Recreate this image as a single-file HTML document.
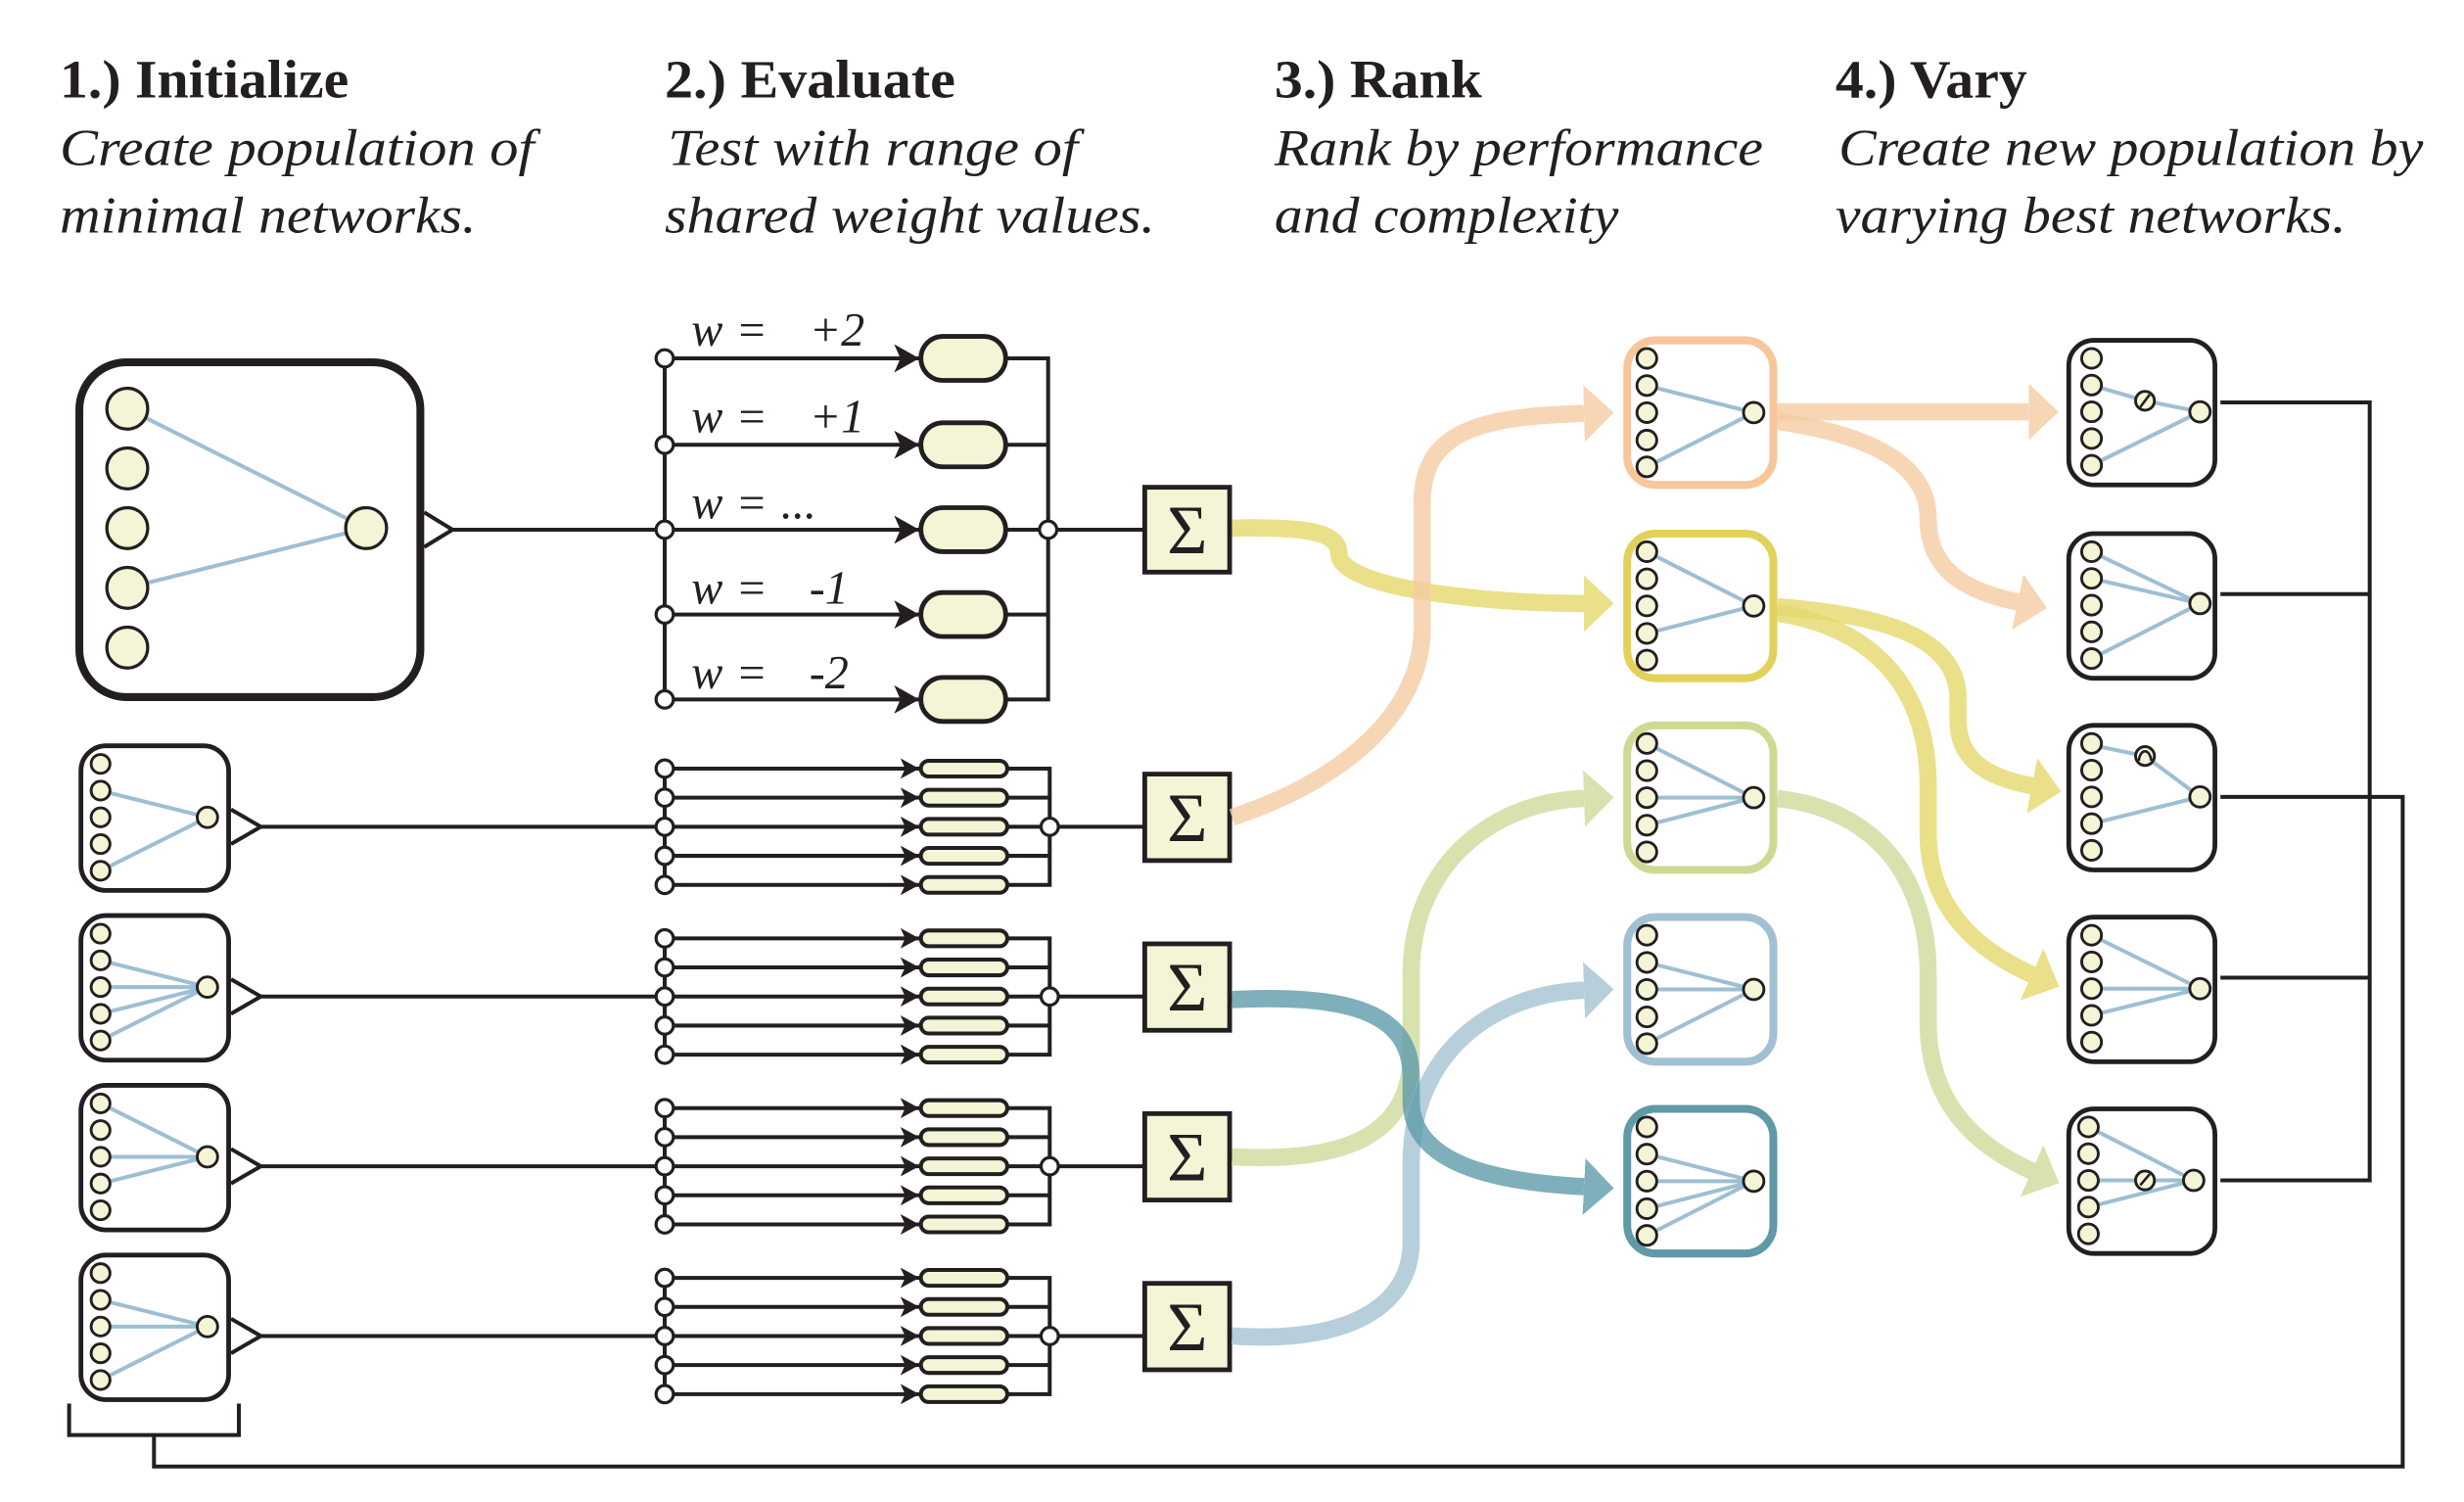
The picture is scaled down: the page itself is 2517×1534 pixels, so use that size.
<!DOCTYPE html>
<html><head><meta charset="utf-8"><style>html,body{margin:0;padding:0;background:#fff}svg{display:block}</style></head>
<body>
<svg width="2517" height="1534" viewBox="0 0 1568 955.6" xmlns="http://www.w3.org/2000/svg">
<defs>
<marker id="ab" markerUnits="userSpaceOnUse" markerWidth="18" markerHeight="20" refX="16" refY="9" orient="auto"><path d="M0,0 L16,9 L0,18 L4,9 Z" fill="#231f20"/></marker>
<marker id="as" markerUnits="userSpaceOnUse" markerWidth="14" markerHeight="14" refX="12" refY="6.5" orient="auto"><path d="M0,0 L12,6.5 L0,13 L3,6.5 Z" fill="#231f20"/></marker>
<marker id="mo" markerUnits="userSpaceOnUse" markerWidth="20" markerHeight="38" refX="0" refY="18" orient="auto"><path d="M0,0 L19,18 L0,36 Z" fill="#f6cca4"/></marker>
<marker id="my" markerUnits="userSpaceOnUse" markerWidth="20" markerHeight="38" refX="0" refY="18" orient="auto"><path d="M0,0 L19,18 L0,36 Z" fill="#e5d96c"/></marker>
<marker id="mg" markerUnits="userSpaceOnUse" markerWidth="20" markerHeight="38" refX="0" refY="18" orient="auto"><path d="M0,0 L19,18 L0,36 Z" fill="#cfdb9c"/></marker>
<marker id="mb" markerUnits="userSpaceOnUse" markerWidth="20" markerHeight="38" refX="0" refY="18" orient="auto"><path d="M0,0 L19,18 L0,36 Z" fill="#a6c3d3"/></marker>
<marker id="mt" markerUnits="userSpaceOnUse" markerWidth="20" markerHeight="38" refX="0" refY="18" orient="auto"><path d="M0,0 L19,18 L0,36 Z" fill="#5f9cab"/></marker>
</defs>

<!-- Headings -->
<g font-family="Liberation Serif, serif" fill="#231f20">
<text x="38" y="62" font-size="34" font-weight="bold" textLength="184" lengthAdjust="spacingAndGlyphs">1.) Initialize</text>
<text x="423" y="62" font-size="34" font-weight="bold" textLength="185" lengthAdjust="spacingAndGlyphs">2.) Evaluate</text>
<text x="811" y="62" font-size="34" font-weight="bold" textLength="132" lengthAdjust="spacingAndGlyphs">3.) Rank</text>
<text x="1168" y="62" font-size="34" font-weight="bold" textLength="122" lengthAdjust="spacingAndGlyphs">4.) Vary</text>
<g font-style="italic" font-size="33">
<text x="38" y="105" textLength="302" lengthAdjust="spacingAndGlyphs">Create population of</text>
<text x="38" y="148" textLength="265" lengthAdjust="spacingAndGlyphs">minimal networks.</text>
<text x="425" y="105" textLength="261" lengthAdjust="spacingAndGlyphs">Test with range of</text>
<text x="423" y="148" textLength="312" lengthAdjust="spacingAndGlyphs">shared weight values.</text>
<text x="811" y="105" textLength="311" lengthAdjust="spacingAndGlyphs">Rank by performance</text>
<text x="811" y="148" textLength="219" lengthAdjust="spacingAndGlyphs">and complexity</text>
<text x="1170" y="105" textLength="372" lengthAdjust="spacingAndGlyphs">Create new population by</text>
<text x="1168" y="148" textLength="325" lengthAdjust="spacingAndGlyphs">varying best networks.</text>
</g>
<g font-size="30">
<text x="440" y="220"><tspan font-style="italic">w</tspan><tspan x="470">=</tspan><tspan x="515" font-style="italic">+2</tspan></text>
<text x="440" y="275"><tspan font-style="italic">w</tspan><tspan x="470">=</tspan><tspan x="515" font-style="italic">+1</tspan></text>
<text x="440" y="330"><tspan font-style="italic">w</tspan><tspan x="470">=</tspan><tspan x="497" font-style="italic">...</tspan></text>
<text x="440" y="384"><tspan font-style="italic">w</tspan><tspan x="470">=</tspan><tspan x="515" font-style="italic">-1</tspan></text>
<text x="440" y="438"><tspan font-style="italic">w</tspan><tspan x="470">=</tspan><tspan x="515" font-style="italic">-2</tspan></text>
</g>
</g>

<!-- Big network -->
<g stroke="#231f20" fill="none">
<rect x="50.5" y="230.5" width="217" height="213" rx="30" stroke-width="5"/>
<line x1="81" y1="260" x2="233" y2="336" stroke="#9dbfd3" stroke-width="2.5"/>
<line x1="81" y1="374" x2="233" y2="336" stroke="#9dbfd3" stroke-width="2.5"/>
<g fill="#f4f4d6" stroke-width="2">
<circle cx="81" cy="260" r="13"/><circle cx="81" cy="298" r="13"/><circle cx="81" cy="336" r="13"/><circle cx="81" cy="374" r="13"/><circle cx="81" cy="412" r="13"/><circle cx="233" cy="336" r="13"/>
</g>
<path d="M270,326 L288,337 L270,348" stroke-width="2.5" fill="#fff"/>
<path d="M288,337 H423" stroke-width="2.5"/>
<!-- eval big -->
<path d="M423,228 V445" stroke-width="2.5"/>
<g stroke-width="2.5" marker-end="url(#ab)">
<path d="M423,228 H585"/><path d="M423,283 H585"/><path d="M423,337 H585"/><path d="M423,391 H585"/><path d="M423,445 H585"/>
</g>
<g fill="#f4f4d6" stroke-width="3">
<rect x="586" y="214" width="54" height="28" rx="14"/><rect x="586" y="269" width="54" height="28" rx="14"/><rect x="586" y="323" width="54" height="28" rx="14"/><rect x="586" y="377" width="54" height="28" rx="14"/><rect x="586" y="431" width="54" height="28" rx="14"/>
</g>
<path d="M640,228 H667 V445 H640 M640,283 H667 M640,337 H728 M640,391 H667" stroke-width="2.5"/>
<g fill="#fff" stroke-width="2">
<circle cx="423" cy="228" r="5.5"/><circle cx="423" cy="283" r="5.5"/><circle cx="423" cy="337" r="5.5"/><circle cx="423" cy="391" r="5.5"/><circle cx="423" cy="445" r="5.5"/><circle cx="667" cy="337" r="5.5"/>
</g>
<rect x="728.5" y="310" width="54" height="54" fill="#f4f4d6" stroke-width="3"/>
</g>
<text x="755.5" y="352" font-family="Liberation Serif, serif" font-size="44" text-anchor="middle" fill="#231f20">Σ</text>

<!-- small rows: template pieces -->
<g stroke="#231f20" fill="none">
<!-- row nets -->
<g transform="translate(50,473)">
<rect x="1.5" y="1.5" width="94" height="92" rx="16" stroke-width="3"/>
<path d="M14,30 L82,47 M14,81 L82,47" stroke="#9dbfd3" stroke-width="2.5"/>
</g>
<g transform="translate(50,581)">
<rect x="1.5" y="1.5" width="94" height="92" rx="16" stroke-width="3"/>
<path d="M14,30 L82,47 M14,47 L82,47 M14,64 L82,47 M14,81 L82,47" stroke="#9dbfd3" stroke-width="2.5"/>
</g>
<g transform="translate(50,689)">
<rect x="1.5" y="1.5" width="94" height="92" rx="16" stroke-width="3"/>
<path d="M14,13 L82,47 M14,47 L82,47 M14,64 L82,47" stroke="#9dbfd3" stroke-width="2.5"/>
</g>
<g transform="translate(50,797)">
<rect x="1.5" y="1.5" width="94" height="92" rx="16" stroke-width="3"/>
<path d="M14,30 L82,47 M14,47 L82,47 M14,81 L82,47" stroke="#9dbfd3" stroke-width="2.5"/>
</g>
</g>
<g fill="#f4f4d6" stroke="#231f20" stroke-width="1.8">
<g transform="translate(50,473)"><circle cx="14" cy="13" r="6"/><circle cx="14" cy="30" r="6"/><circle cx="14" cy="47" r="6"/><circle cx="14" cy="64" r="6"/><circle cx="14" cy="81" r="6"/><circle cx="82" cy="47" r="6.5"/></g>
<g transform="translate(50,581)"><circle cx="14" cy="13" r="6"/><circle cx="14" cy="30" r="6"/><circle cx="14" cy="47" r="6"/><circle cx="14" cy="64" r="6"/><circle cx="14" cy="81" r="6"/><circle cx="82" cy="47" r="6.5"/></g>
<g transform="translate(50,689)"><circle cx="14" cy="13" r="6"/><circle cx="14" cy="30" r="6"/><circle cx="14" cy="47" r="6"/><circle cx="14" cy="64" r="6"/><circle cx="14" cy="81" r="6"/><circle cx="82" cy="47" r="6.5"/></g>
<g transform="translate(50,797)"><circle cx="14" cy="13" r="6"/><circle cx="14" cy="30" r="6"/><circle cx="14" cy="47" r="6"/><circle cx="14" cy="64" r="6"/><circle cx="14" cy="81" r="6"/><circle cx="82" cy="47" r="6.5"/></g>
</g>

<!-- small eval rows -->
<g stroke="#231f20" fill="none" stroke-width="2.5">
<g transform="translate(0,526)">
<path d="M147,-11 L166,0 L147,11" fill="#fff"/><path d="M166,0 H423 M423,-37 V37"/>
<g marker-end="url(#as)"><path d="M423,-37 H585"/><path d="M423,-18.5 H585"/><path d="M423,0 H585"/><path d="M423,18.5 H585"/><path d="M423,37 H585"/></g>
<g fill="#f4f4d6"><rect x="586" y="-42" width="55" height="10" rx="5"/><rect x="586" y="-23.5" width="55" height="10" rx="5"/><rect x="586" y="-5" width="55" height="10" rx="5"/><rect x="586" y="13.5" width="55" height="10" rx="5"/><rect x="586" y="32" width="55" height="10" rx="5"/></g>
<path d="M641,-37 H668 V37 H641 M641,-18.5 H668 M641,0 H728 M641,18.5 H668"/>
<g fill="#fff" stroke-width="2"><circle cx="423" cy="-37" r="5.5"/><circle cx="423" cy="-18.5" r="5.5"/><circle cx="423" cy="0" r="5.5"/><circle cx="423" cy="18.5" r="5.5"/><circle cx="423" cy="37" r="5.5"/><circle cx="668" cy="0" r="5.5"/></g>
<rect x="728.5" y="-33.5" width="54" height="55" fill="#f4f4d6" stroke-width="3"/>
</g>
<g transform="translate(0,634)">
<path d="M147,-11 L166,0 L147,11" fill="#fff"/><path d="M166,0 H423 M423,-37 V37"/>
<g marker-end="url(#as)"><path d="M423,-37 H585"/><path d="M423,-18.5 H585"/><path d="M423,0 H585"/><path d="M423,18.5 H585"/><path d="M423,37 H585"/></g>
<g fill="#f4f4d6"><rect x="586" y="-42" width="55" height="10" rx="5"/><rect x="586" y="-23.5" width="55" height="10" rx="5"/><rect x="586" y="-5" width="55" height="10" rx="5"/><rect x="586" y="13.5" width="55" height="10" rx="5"/><rect x="586" y="32" width="55" height="10" rx="5"/></g>
<path d="M641,-37 H668 V37 H641 M641,-18.5 H668 M641,0 H728 M641,18.5 H668"/>
<g fill="#fff" stroke-width="2"><circle cx="423" cy="-37" r="5.5"/><circle cx="423" cy="-18.5" r="5.5"/><circle cx="423" cy="0" r="5.5"/><circle cx="423" cy="18.5" r="5.5"/><circle cx="423" cy="37" r="5.5"/><circle cx="668" cy="0" r="5.5"/></g>
<rect x="728.5" y="-33.5" width="54" height="55" fill="#f4f4d6" stroke-width="3"/>
</g>
<g transform="translate(0,742)">
<path d="M147,-11 L166,0 L147,11" fill="#fff"/><path d="M166,0 H423 M423,-37 V37"/>
<g marker-end="url(#as)"><path d="M423,-37 H585"/><path d="M423,-18.5 H585"/><path d="M423,0 H585"/><path d="M423,18.5 H585"/><path d="M423,37 H585"/></g>
<g fill="#f4f4d6"><rect x="586" y="-42" width="55" height="10" rx="5"/><rect x="586" y="-23.5" width="55" height="10" rx="5"/><rect x="586" y="-5" width="55" height="10" rx="5"/><rect x="586" y="13.5" width="55" height="10" rx="5"/><rect x="586" y="32" width="55" height="10" rx="5"/></g>
<path d="M641,-37 H668 V37 H641 M641,-18.5 H668 M641,0 H728 M641,18.5 H668"/>
<g fill="#fff" stroke-width="2"><circle cx="423" cy="-37" r="5.5"/><circle cx="423" cy="-18.5" r="5.5"/><circle cx="423" cy="0" r="5.5"/><circle cx="423" cy="18.5" r="5.5"/><circle cx="423" cy="37" r="5.5"/><circle cx="668" cy="0" r="5.5"/></g>
<rect x="728.5" y="-33.5" width="54" height="55" fill="#f4f4d6" stroke-width="3"/>
</g>
<g transform="translate(0,850)">
<path d="M147,-11 L166,0 L147,11" fill="#fff"/><path d="M166,0 H423 M423,-37 V37"/>
<g marker-end="url(#as)"><path d="M423,-37 H585"/><path d="M423,-18.5 H585"/><path d="M423,0 H585"/><path d="M423,18.5 H585"/><path d="M423,37 H585"/></g>
<g fill="#f4f4d6"><rect x="586" y="-42" width="55" height="10" rx="5"/><rect x="586" y="-23.5" width="55" height="10" rx="5"/><rect x="586" y="-5" width="55" height="10" rx="5"/><rect x="586" y="13.5" width="55" height="10" rx="5"/><rect x="586" y="32" width="55" height="10" rx="5"/></g>
<path d="M641,-37 H668 V37 H641 M641,-18.5 H668 M641,0 H728 M641,18.5 H668"/>
<g fill="#fff" stroke-width="2"><circle cx="423" cy="-37" r="5.5"/><circle cx="423" cy="-18.5" r="5.5"/><circle cx="423" cy="0" r="5.5"/><circle cx="423" cy="18.5" r="5.5"/><circle cx="423" cy="37" r="5.5"/><circle cx="668" cy="0" r="5.5"/></g>
<rect x="728.5" y="-33.5" width="54" height="55" fill="#f4f4d6" stroke-width="3"/>
</g>
</g>
<g font-family="Liberation Serif, serif" font-size="44" text-anchor="middle" fill="#231f20">
<text x="755.5" y="535">Σ</text><text x="755.5" y="643">Σ</text><text x="755.5" y="751">Σ</text><text x="755.5" y="859">Σ</text>
</g>

<!-- Colored flows left -->
<g fill="none" stroke-width="11" stroke-linecap="butt">
<g opacity="0.8"><path d="M784,336 C830,335 852,338 852,352 C852,375 950,384 1008,384" stroke="#e5d96c" marker-end="url(#my)"/></g>
<g opacity="0.8"><path d="M784,520 C860,495 905,450 905,400 L905,320 C905,275 940,265 1008,263" stroke="#f6cca4" marker-end="url(#mo)"/></g>
<g opacity="0.8"><path d="M784,736 C860,740 898,720 898,670 L898,620 C898,550 950,510 1008,508" stroke="#cfdb9c" marker-end="url(#mg)"/></g>
<g opacity="0.8"><path d="M784,850 C860,855 898,830 898,790 L898,740 C898,670 950,632 1008,630" stroke="#a6c3d3" marker-end="url(#mb)"/></g>
<g opacity="0.8"><path d="M784,636 C860,632 898,645 898,685 L898,700 C898,740 950,752 1008,755" stroke="#5f9cab" marker-end="url(#mt)"/></g>
</g>

<!-- Rank boxes -->
<g fill="none" stroke-width="5">
<rect x="1035.5" y="216.5" width="93" height="92" rx="18" stroke="#f7c69b"/>
<rect x="1035.5" y="339.5" width="93" height="92" rx="18" stroke="#e2d15a"/>
<rect x="1035.5" y="461.5" width="93" height="92" rx="18" stroke="#cfd993"/>
<rect x="1035.5" y="583.5" width="93" height="92" rx="18" stroke="#a2c0d3"/>
<rect x="1035.5" y="705.5" width="93" height="92" rx="18" stroke="#5f9aa6"/>
</g>
<g stroke="#9dbfd3" stroke-width="2.5" fill="none">
<path d="M1048,245.3 L1116,262.5 M1048,297 L1116,262.5"/>
<path d="M1048,351 L1116,385.5 M1048,403 L1116,385.5"/>
<path d="M1048,473 L1116,507.5 M1048,507.5 L1116,507.5 M1048,525 L1116,507.5"/>
<path d="M1048,612.3 L1116,629.5 M1048,629.5 L1116,629.5 M1048,664 L1116,629.5"/>
<path d="M1048,734.3 L1116,751.5 M1048,751.5 L1116,751.5 M1048,769 L1116,751.5 M1048,786 L1116,751.5"/>
</g>
<g fill="#f4f4d6" stroke="#231f20" stroke-width="1.8">
<g transform="translate(0,214)"><circle cx="1048" cy="14" r="6.3"/><circle cx="1048" cy="31.3" r="6.3"/><circle cx="1048" cy="48.5" r="6.3"/><circle cx="1048" cy="66" r="6.3"/><circle cx="1048" cy="83" r="6.3"/><circle cx="1116" cy="48.5" r="6.5"/></g>
<g transform="translate(0,337)"><circle cx="1048" cy="14" r="6.3"/><circle cx="1048" cy="31.3" r="6.3"/><circle cx="1048" cy="48.5" r="6.3"/><circle cx="1048" cy="66" r="6.3"/><circle cx="1048" cy="83" r="6.3"/><circle cx="1116" cy="48.5" r="6.5"/></g>
<g transform="translate(0,459)"><circle cx="1048" cy="14" r="6.3"/><circle cx="1048" cy="31.3" r="6.3"/><circle cx="1048" cy="48.5" r="6.3"/><circle cx="1048" cy="66" r="6.3"/><circle cx="1048" cy="83" r="6.3"/><circle cx="1116" cy="48.5" r="6.5"/></g>
<g transform="translate(0,581)"><circle cx="1048" cy="14" r="6.3"/><circle cx="1048" cy="31.3" r="6.3"/><circle cx="1048" cy="48.5" r="6.3"/><circle cx="1048" cy="66" r="6.3"/><circle cx="1048" cy="83" r="6.3"/><circle cx="1116" cy="48.5" r="6.5"/></g>
<g transform="translate(0,703)"><circle cx="1048" cy="14" r="6.3"/><circle cx="1048" cy="31.3" r="6.3"/><circle cx="1048" cy="48.5" r="6.3"/><circle cx="1048" cy="66" r="6.3"/><circle cx="1048" cy="83" r="6.3"/><circle cx="1116" cy="48.5" r="6.5"/></g>
</g>

<!-- Flows right -->
<g fill="none" stroke-width="11">
<g opacity="0.8"><path d="M1131,262 H1291" stroke="#f6cca4" marker-end="url(#mo)"/></g>
<g opacity="0.8"><path d="M1131,268 C1200,278 1227,300 1227,330 C1227,362 1250,376 1284,383" stroke="#f6cca4" marker-end="url(#mo)"/></g>
<g opacity="0.8"><path d="M1131,386 C1210,392 1246,410 1246,445 L1246,458 C1246,482 1262,494 1293,500" stroke="#e5d96c" marker-end="url(#my)"/></g>
<g opacity="0.8"><path d="M1131,390 C1195,400 1227,440 1227,500 L1227,530 C1227,575 1255,603 1293,620" stroke="#e5d96c" marker-end="url(#my)"/></g>
<g opacity="0.8"><path d="M1131,508 C1195,515 1227,560 1227,620 L1227,650 C1227,700 1255,728 1293,745" stroke="#cfdb9c" marker-end="url(#mg)"/></g>
</g>

<!-- Vary boxes -->
<g fill="none" stroke="#231f20" stroke-width="3">
<rect x="1316.5" y="216.5" width="93" height="92" rx="16"/>
<rect x="1316.5" y="339.5" width="93" height="92" rx="16"/>
<rect x="1316.5" y="461.5" width="93" height="92" rx="16"/>
<rect x="1316.5" y="583.5" width="93" height="92" rx="16"/>
<rect x="1316.5" y="705.5" width="93" height="92" rx="16"/>
</g>
<g stroke="#9dbfd3" stroke-width="2.5" fill="none">
<path d="M1331,245 L1365,255 L1400,262 M1331,296 L1400,262"/>
<path d="M1331,351 L1400,384 M1331,368 L1400,384 M1331,419 L1400,384"/>
<path d="M1331,474 L1365,481 L1400,507 M1331,524 L1400,507"/>
<path d="M1331,595 L1400,629 M1331,629 L1400,629 M1331,646 L1400,629"/>
<path d="M1329,717 L1396,751 M1329,751 L1396,751 M1329,768 L1396,751"/>
</g>
<g fill="#f4f4d6" stroke="#231f20" stroke-width="1.8">
<g transform="translate(0,215)"><circle cx="1331" cy="13" r="6.3"/><circle cx="1331" cy="30" r="6.3"/><circle cx="1331" cy="47" r="6.3"/><circle cx="1331" cy="64" r="6.3"/><circle cx="1331" cy="81" r="6.3"/><circle cx="1400" cy="47" r="6.5"/></g>
<g transform="translate(0,338)"><circle cx="1331" cy="13" r="6.3"/><circle cx="1331" cy="30" r="6.3"/><circle cx="1331" cy="47" r="6.3"/><circle cx="1331" cy="64" r="6.3"/><circle cx="1331" cy="81" r="6.3"/><circle cx="1400" cy="46" r="6.5"/></g>
<g transform="translate(0,460)"><circle cx="1331" cy="13" r="6.3"/><circle cx="1331" cy="30" r="6.3"/><circle cx="1331" cy="47" r="6.3"/><circle cx="1331" cy="64" r="6.3"/><circle cx="1331" cy="81" r="6.3"/><circle cx="1400" cy="47" r="6.5"/></g>
<g transform="translate(0,582)"><circle cx="1331" cy="13" r="6.3"/><circle cx="1331" cy="30" r="6.3"/><circle cx="1331" cy="47" r="6.3"/><circle cx="1331" cy="64" r="6.3"/><circle cx="1331" cy="81" r="6.3"/><circle cx="1400" cy="47" r="6.5"/></g>
<g transform="translate(-2,704)"><circle cx="1331" cy="13" r="6.3"/><circle cx="1331" cy="30" r="6.3"/><circle cx="1331" cy="47" r="6.3"/><circle cx="1331" cy="64" r="6.3"/><circle cx="1331" cy="81" r="6.3"/><circle cx="1398" cy="47" r="6.5"/></g>
<circle cx="1365" cy="255" r="6"/><circle cx="1365" cy="481" r="6"/><circle cx="1365" cy="751" r="6"/>
</g>
<g stroke="#231f20" stroke-width="1.6" fill="none">
<path d="M1362,259 L1368,251"/><path d="M1362,754 L1368,747"/>
<path d="M1361,484 C1362,476 1368,476 1369,484"/>
</g>

<!-- feedback lines -->
<g stroke="#231f20" stroke-width="2.5" fill="none">
<path d="M1413,256 H1508 V751 H1413 M1413,378 H1508 M1413,622 H1508"/>
<path d="M1413,507 H1529 V933 H98 V913"/>
<path d="M44,893 V913 H152 V893"/>
</g>
</svg>
</body></html>
